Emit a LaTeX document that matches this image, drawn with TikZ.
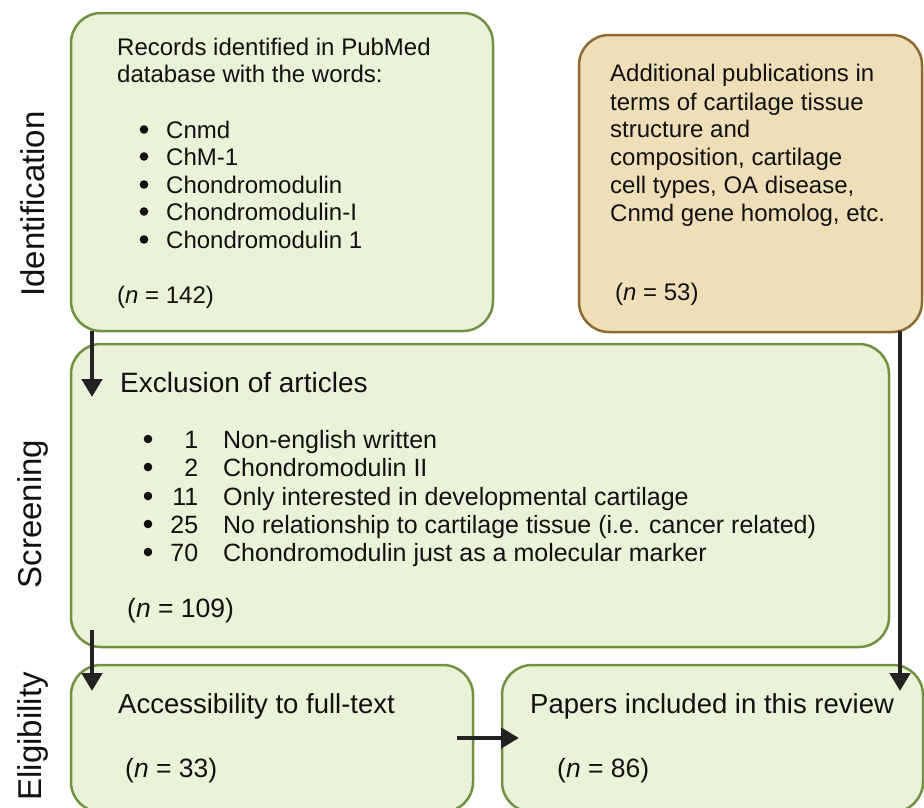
\documentclass[tikz,border=0pt]{standalone}
\usepackage{fontspec}
\setmainfont{Liberation Sans}
\usetikzlibrary{arrows.meta}
\definecolor{gfill}{HTML}{EAF2D9}
\definecolor{gline}{HTML}{6F9140}
\definecolor{tfill}{HTML}{EEDFB9}
\definecolor{tline}{HTML}{8C6A30}
\definecolor{arrc}{HTML}{222222}
\definecolor{ink}{HTML}{111111}
\begin{document}
\begin{tikzpicture}[x=1pt,y=-1pt,
  gbox/.style={draw=gline, fill=gfill, line width=2.5pt, rounded corners=30pt, anchor=north west, inner sep=0pt, outer sep=0pt},
  tbox/.style={draw=tline, fill=tfill, line width=2.5pt, rounded corners=30pt, anchor=north west, inner sep=0pt, outer sep=0pt},
  txt/.style={anchor=base west, inner sep=0pt, text=ink, font=\fontsize{24}{28}\selectfont},
  ltxt/.style={txt, font=\fontsize{25}{29}\selectfont},
  htxt/.style={txt, font=\fontsize{28}{32}\selectfont},
  etxt/.style={txt, font=\fontsize{27.5}{32}\selectfont},
  ntxt/.style={txt, font=\fontsize{26.5}{31}\selectfont},
  side/.style={rotate=90, inner sep=0pt, text=ink, font=\fontsize{33}{38}\selectfont},
  dot/.style={fill=ink},
  arr/.style={draw=arrc, line width=4.5pt, -{Triangle[length=18pt,width=20pt]}}]
\clip (0,0) rectangle (924,807);
\useasboundingbox (0,0) rectangle (924,807);

% boxes
\node[gbox, minimum width=422pt, minimum height=318pt] (b1) at (71,13) {};
\node[tbox, minimum width=343pt, minimum height=297pt] (b2) at (579,35) {};
\node[gbox, minimum width=818pt, minimum height=303pt] (b3) at (71,344) {};
\node[gbox, minimum width=402pt, minimum height=147pt] (b4) at (71,665) {};
\node[gbox, minimum width=421pt, minimum height=147pt] (b5) at (502,665) {};

% side labels
\node[side, anchor=center] (sid) at (33,204) {Identification};
\node[side, anchor=center] (sscr) at (33,514) {Screening};
\node[side, anchor=east] (selig) at (33,672) {Eligibility};

% box 1 text
\node[txt] (t1a) at (117,55) {Records identified in PubMed};
\node[txt] (t1b) at (117,82) {database with the words:};
\foreach \y in {138,165,193,220,248} \fill[dot] (144,\y-8.5) circle (4.3pt);
\node[txt] (w1) at (166,138) {Cnmd};
\node[txt] (w2) at (166,165) {ChM-1};
\node[txt] (w3) at (166,193) {Chondromodulin};
\node[txt] (w4) at (166,220) {Chondromodulin-I};
\node[txt] (w5) at (166,248) {Chondromodulin 1};
\node[txt] (n1) at (117,303) {(\textit{n} = 142)};

% box 2 text
\node[txt] (t2a) at (610,81) {Additional publications in};
\node[txt] (t2b) at (610,110) {terms of cartilage tissue};
\node[txt] (t2c) at (610,137) {structure and};
\node[txt] (t2d) at (610,165) {composition, cartilage};
\node[txt] (t2e) at (610,193) {cell types, OA disease,};
\node[txt] (t2f) at (610,221) {Cnmd gene homolog, etc.};
\node[txt] (n2) at (615,300) {(\textit{n} = 53)};

% box 3 text
\node[htxt] (t3) at (120,392) {Exclusion of articles};
\foreach \y in {448,476,505,533,561} \fill[dot] (148,\y-9) circle (4.3pt);
\node[ltxt] (x1) at (160,448) {\makebox[38pt][r]{1}\hspace{25pt}Non-english written};
\node[ltxt] (x2) at (160,476) {\makebox[38pt][r]{2}\hspace{25pt}Chondromodulin II};
\node[ltxt] (x3) at (160,505) {\makebox[38pt][r]{11}\hspace{25pt}Only interested in developmental cartilage};
\node[ltxt] (x4) at (160,533) {\makebox[38pt][r]{25}\hspace{25pt}No relationship to cartilage tissue (i.e. cancer related)};
\node[ltxt] (x5) at (160,561) {\makebox[38pt][r]{70}\hspace{25pt}Chondromodulin just as a molecular marker};
\node[ntxt] (n3) at (127,617) {(\textit{n} = 109)};

% box 4 / 5 text
\node[etxt] (t4) at (118,713) {Accessibility to full-text};
\node[ntxt] (n4) at (125,777) {(\textit{n} = 33)};
\node[etxt] (t5) at (530,713) {Papers included in this review};
\node[ntxt] (n5) at (557,777) {(\textit{n} = 86)};

% connectors
\coordinate (p1s) at (92,331);
\coordinate (p1e) at (92,397);
\coordinate (p2s) at (92,630);
\coordinate (p2e) at (92,691);
\coordinate (p3s) at (900,331);
\coordinate (p3e) at (900,691);
\coordinate (p4s) at (457,738);
\coordinate (p4e) at (519,738);
\draw[arr] (p1s) -- (p1e);
\draw[arr] (p2s) -- (p2e);
\draw[arr] (p3s) -- (p3e);
\draw[arr] (p4s) -- (p4e);
\end{tikzpicture}
\end{document}
